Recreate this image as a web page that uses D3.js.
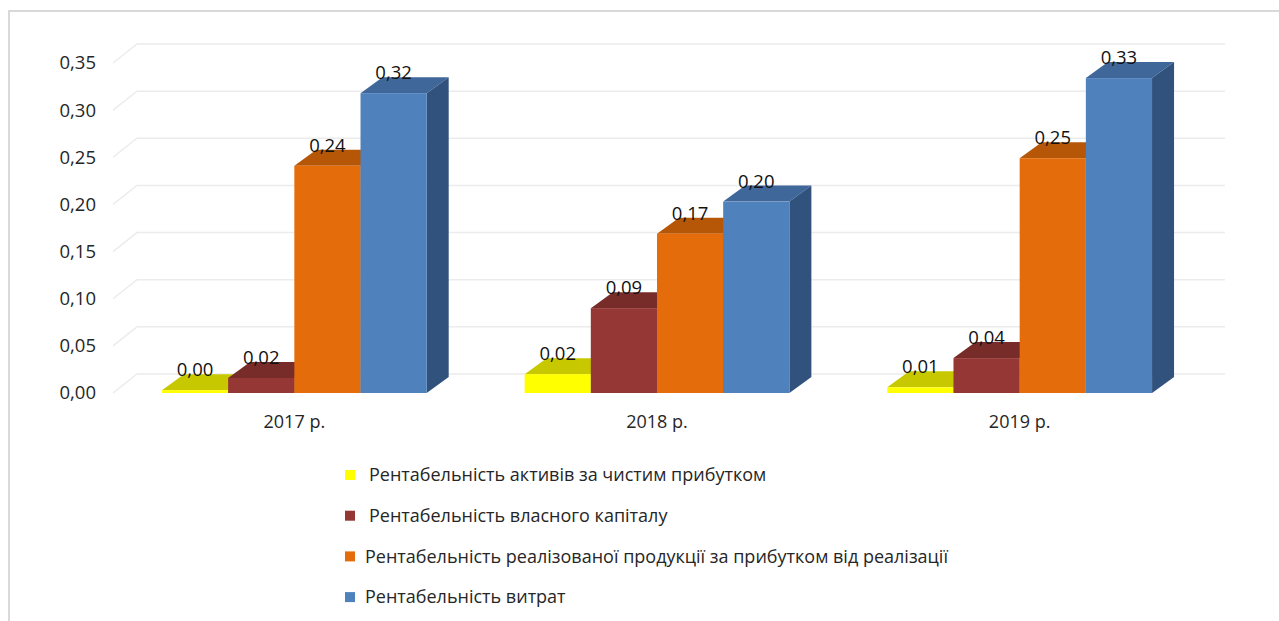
<!DOCTYPE html>
<html>
<head>
<meta charset="utf-8">
<script src="https://cdn.jsdelivr.net/npm/d3@7"></script>
<style>
    body { margin: 0; background: #fff; }
    svg { display: block; font-family: "Open Sans", "Liberation Sans", sans-serif; }
</style>
</head>
<body>
<svg class="chart"></svg>
<script>
// chart data
const years = ["2017 р.", "2018 р.", "2019 р."];
const seriesNames = [
    "Рентабельність активів за чистим прибутком",
    "Рентабельність власного капіталу",
    "Рентабельність реалізованої продукції за прибутком від реалізації",
    "Рентабельність витрат"
];
const assetsReturn = [0.003, 0.020, 0.006];
const equityReturn = [0.016, 0.090, 0.037];
const salesReturn = [0.241, 0.169, 0.249];
const costReturn = [0.318, 0.203, 0.334];
const yTicks = [0, 0.05, 0.10, 0.15, 0.20, 0.25, 0.30, 0.35];

const seriesValues = [assetsReturn, equityReturn, salesReturn, costReturn];
// front, top, side
const colors = [
    ["#ffff00", "#c8c800", "#a6a600"],
    ["#953735", "#772c2a", "#5e2321"],
    ["#e46c0a", "#b65708", "#8f4506"],
    ["#4f81bd", "#3f679a", "#31527d"]
];

const W = 1279, H = 621;
const svg = d3.select(".chart").attr("width", W).attr("height", H);

// outer frame (top + left only)
svg.append("path")
    .attr("d", "M9,621 V11 H1279")
    .attr("fill", "none").attr("stroke", "#d9d9d9").attr("stroke-width", 2);

const wallDx = 24, wallDy = -19;   // depth of walls
const barDx = 22, barDy = -16;     // depth of bars

const y = d3.scaleLinear().domain([0, 0.35]).range([393, 63]);
const x = d3.scaleBand().domain(years).range([113, 1201]).paddingInner(0.27).paddingOuter(0.135);
const xs = d3.scaleBand().domain(d3.range(seriesNames.length)).range([0, x.bandwidth()]);

const fmt = v => d3.format(".2f")(v).replace(".", ",");

// gridlines: side wall diagonal + back wall line
const grid = svg.append("g").attr("fill", "none").attr("stroke", "#ececec").attr("stroke-width", 1.5);
yTicks.forEach(t => {
    const yf = y(t);
    grid.append("path")
        .attr("d", `M${x.range()[0]},${yf} L${x.range()[0] + wallDx},${yf + wallDy} H${x.range()[1] + wallDx}`);
});

// y axis labels
svg.append("g").selectAll("text")
    .data(yTicks).enter().append("text")
    .attr("x", 96).attr("y", d => y(d))
    .attr("dy", "0.35em")
    .attr("text-anchor", "end")
    .attr("font-size", 18.5).attr("fill", "#262626")
    .text(d => fmt(d));

// bars
const bars = [];
years.forEach((yr, i) => {
    seriesValues.forEach((vals, s) => {
        bars.push({year: yr, s: s, value: vals[i]});
    });
});

const barG = svg.append("g");
bars.forEach(d => {
    const x0 = x(d.year) + xs(d.s), w = xs.bandwidth();
    const y0 = y(0), y1 = y(d.value);
    const g = barG.append("g");
    // top
    g.append("path")
        .attr("d", `M${x0},${y1} L${x0 + barDx},${y1 + barDy} L${x0 + w + barDx},${y1 + barDy} L${x0 + w},${y1} Z`)
        .attr("fill", colors[d.s][1]);
    // side
    g.append("path")
        .attr("d", `M${x0 + w},${y1} L${x0 + w + barDx},${y1 + barDy} L${x0 + w + barDx},${y0 + barDy} L${x0 + w},${y0} Z`)
        .attr("fill", colors[d.s][2]);
    // front
    g.append("rect")
        .attr("x", x0).attr("y", y1)
        .attr("width", w).attr("height", Math.max(0.5, y0 - y1))
        .attr("fill", colors[d.s][0]);
});

// data labels
svg.append("g").selectAll("text")
    .data(bars).enter().append("text")
    .attr("x", d => x(d.year) + xs(d.s) + xs.bandwidth() / 2)
    .attr("y", d => y(d.value) - 14)
    .attr("text-anchor", "middle")
    .attr("font-size", 18.5).attr("fill", "#111")
    .text(d => fmt(d.value));

// category labels
svg.append("g").selectAll("text")
    .data(years).enter().append("text")
    .attr("x", d => x(d) + x.bandwidth() / 2)
    .attr("y", 428)
    .attr("text-anchor", "middle")
    .attr("font-size", 18).attr("fill", "#262626")
    .text(d => d);

// legend
const legend = svg.append("g").attr("transform", "translate(345,475)");
const items = legend.selectAll("g")
    .data(seriesNames).enter().append("g")
    .attr("transform", (d, i) => `translate(0,${i * 40.7})`);
items.append("rect")
    .attr("x", 0).attr("y", -5).attr("width", 10).attr("height", 10)
    .attr("fill", (d, i) => colors[i][0]);
items.append("text")
    .attr("x", (d, i) => i < 2 ? 24 : 20).attr("y", 0).attr("dy", "0.35em")
    .attr("font-size", 18).attr("fill", "#262626")
    .text(d => d);
</script>
</body>
</html>
